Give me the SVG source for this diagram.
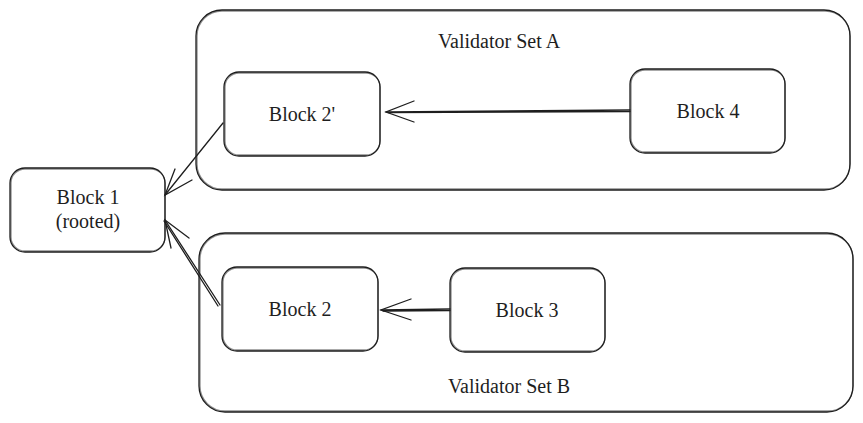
<svg xmlns="http://www.w3.org/2000/svg" width="863" height="423" viewBox="0 0 863 423">
<style>
.box{fill:none;stroke:#1e1e1e;stroke-width:1.3}
.t{font-family:"Liberation Serif",serif;font-size:20px;fill:#1e1e1e;text-anchor:middle}
.c{fill:none;stroke:#1e1e1e;stroke-width:1.3;stroke-linecap:round}
</style>
<rect width="863" height="423" fill="#ffffff"/>
<g id="setA">
<rect class="box" x="196" y="10" width="654" height="180" rx="26"/>
<rect class="box" x="197" y="11" width="653" height="178" rx="25" stroke-opacity="0.5"/>
<text class="t" x="499" y="48">Validator Set A</text>
</g>
<g id="setB">
<rect class="box" x="199" y="233" width="654" height="179" rx="26"/>
<rect class="box" x="200" y="234" width="653" height="177" rx="25" stroke-opacity="0.5"/>
<text class="t" x="509" y="393">Validator Set B</text>
</g>
<g id="block1">
<rect class="box" x="10" y="168" width="155" height="84" rx="15"/>
<rect class="box" x="11" y="169" width="154" height="82" rx="14" stroke-opacity="0.5"/>
<text class="t" x="88" y="204">Block 1</text>
<text class="t" x="88" y="228">(rooted)</text>
</g>
<g id="block2p">
<rect class="box" x="224" y="72" width="156" height="84" rx="15"/>
<rect class="box" x="225" y="73" width="155" height="82" rx="14" stroke-opacity="0.5"/>
<text class="t" x="302" y="121">Block 2'</text>
</g>
<g id="block4">
<rect class="box" x="630" y="69" width="155" height="84" rx="15"/>
<rect class="box" x="631" y="70" width="154" height="82" rx="14" stroke-opacity="0.5"/>
<text class="t" x="708" y="118">Block 4</text>
</g>
<g id="block2">
<rect class="box" x="222" y="267" width="156" height="84" rx="15"/>
<rect class="box" x="223" y="268" width="155" height="82" rx="14" stroke-opacity="0.5"/>
<text class="t" x="300" y="316">Block 2</text>
</g>
<g id="block3">
<rect class="box" x="450" y="268" width="155" height="84" rx="15"/>
<rect class="box" x="451" y="269" width="154" height="82" rx="14" stroke-opacity="0.5"/>
<text class="t" x="527" y="317">Block 3</text>
</g>
<g id="connectors">
<path class="c" d="M630 110 L386 112 M630 111.5 L388 112.5"/>
<path class="c" d="M414 101 L386 112 L414 122"/>
<path class="c" d="M450 309 L381 310 M450 310.5 L383 311"/>
<path class="c" d="M411 299 L381 310 L411 320"/>
<path class="c" d="M223 123 L165 195"/>
<path class="c" d="M175 169 L165 195 L192 180"/>
<path class="c" d="M220 305 L165 220 M218 306 L164 221"/>
<path class="c" d="M189 238 L165 220 L171 248"/>
</g>
</svg>
